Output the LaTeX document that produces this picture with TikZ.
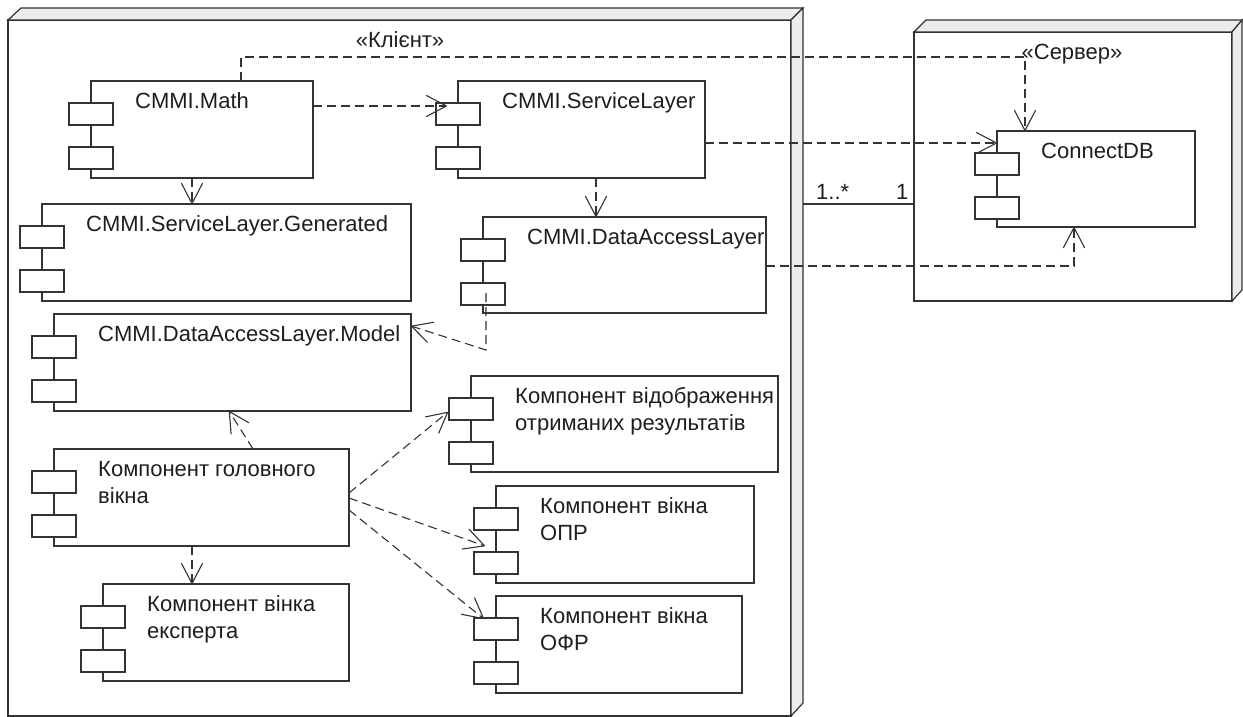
\documentclass[tikz,border=0pt]{standalone}
\usepackage{fontspec}
\setmainfont{Liberation Sans}
\usetikzlibrary{arrows.meta}
\definecolor{linec}{HTML}{333333}
\definecolor{facec}{HTML}{ECECEC}
\definecolor{textc}{HTML}{1E1E1E}
\tikzset{
 body/.style={draw=linec, line width=1.2pt, fill=white, rectangle, inner sep=0pt, outer sep=0pt},
 port/.style={draw=linec, line width=1.2pt, fill=white, rectangle, inner sep=0pt, outer sep=0pt, minimum width=44pt, minimum height=22pt},
 lbl/.style={inner sep=0pt, text=textc, font=\fontsize{22pt}{27pt}\selectfont, align=left},
 dep/.style={draw=linec, line width=1.1pt, dash pattern=on 9pt off 5pt, -{Straight Barb[length=20pt,width=21pt,round]}},
 assoc/.style={draw=linec, line width=1.2pt},
 face/.style={fill=facec, draw=linec, line width=1.2pt, line join=miter},
}
\newcommand\compbox[6]{%
 \node[body, minimum width={#4-#2}, minimum height={#5-#3}, anchor=north west] (#1) at (#2,#3) {};
 \node[port, anchor=north west] (#1-pa) at ([xshift=-22pt,yshift=-22pt]#1.north west) {};
 \node[port, anchor=north west] (#1-pb) at ([xshift=-22pt,yshift=-66pt]#1.north west) {};
 \node[lbl, anchor=north west] (#1-t) at ([xshift=44pt,yshift=-8pt]#1.north west) {#6};
}
\begin{document}
\begin{tikzpicture}[x=1pt,y=-1pt]
\useasboundingbox[fill=white] (0,0) rectangle (1243,717);
% client node
\node[body, minimum width=783, minimum height=696, anchor=north west] (client) at (8,20) {};
\filldraw[face] (client.north west) -- (21,8) -- (803,8) -- (client.north east) -- cycle;
\filldraw[face] (client.north east) -- (803,8) -- (803,703) -- (client.south east) -- cycle;
\node[lbl, anchor=base] (clientlbl) at (400,48) {«Клієнт»};
% server node
\node[body, minimum width=318, minimum height=269, anchor=north west] (server) at (914,32) {};
\filldraw[face] (server.north west) -- (926,20) -- (1242,20) -- (server.north east) -- cycle;
\filldraw[face] (server.north east) -- (1242,20) -- (1242,290) -- (server.south east) -- cycle;
\node[lbl, anchor=base] (serverlbl) at (1072,59.5) {«Сервер»};
% components
\compbox{math}{91}{81}{313}{178}{\strut CMMI.Math}
\compbox{gen}{42}{204}{411}{301}{\strut CMMI.ServiceLayer.Generated}
\compbox{sl}{458}{81}{705}{178}{\strut CMMI.ServiceLayer}
\compbox{dal}{483}{217}{766}{313}{\strut CMMI.DataAccessLayer}
\compbox{model}{54}{314}{411}{411}{\strut CMMI.DataAccessLayer.Model}
\compbox{mainw}{54}{449}{349}{546}{\strut Компонент головного\\\strut вікна}
\compbox{exp}{103}{584}{349}{681}{\strut Компонент вінка\\\strut експерта}
\compbox{res}{471}{376}{778}{472}{\strut Компонент відображення\\\strut отриманих результатів}
\compbox{opr}{496}{486}{754}{583}{\strut Компонент вікна\\\strut ОПР}
\compbox{ofr}{496}{596}{742}{693}{\strut Компонент вікна\\\strut ОФР}
\compbox{db}{997}{131}{1195}{227}{\strut ConnectDB}
% association
\coordinate (as) at (803,204);
\draw[assoc] (as) -- (server.west |- as);
\node[lbl, anchor=base west] (m1) at (816,199) {1..*};
\node[lbl, anchor=base west] (m2) at (896,199) {1};
% dependencies
\coordinate (xa) at (192,0);
\draw[dep] (math.south -| xa) -- (gen.north -| xa);
\coordinate (b1) at (447,106);
\draw[dep] (math.east |- b1) -- (b1);
\coordinate (c1) at (241,57);
\coordinate (c2) at (1025,57);
\draw[dep] (math.north -| c1) -- (c1) -- (c2) -- (c2 |- db.north);
\coordinate (d1) at (0,143);
\draw[dep] (sl.east |- d1) -- (db.west |- d1);
\coordinate (e1) at (596,0);
\draw[dep] (sl.south -| e1) -- (dal.north -| e1);
\coordinate (f1) at (1074,266);
\draw[dep] (dal.east |- f1) -- (f1) -- (f1 |- db.south);
\coordinate (g0) at (486,293);
\coordinate (g1) at (486,350);
\coordinate (g2) at (0,326);
\draw[dep] (g0) -- (g1) -- (model.east |- g2);
\coordinate (h0) at (253,0);
\coordinate (h1) at (229,0);
\draw[dep] (mainw.north -| h0) -- (model.south -| h1);
\coordinate (xi) at (192,0);
\draw[dep] (mainw.south -| xi) -- (exp.north -| xi);
\coordinate (j0) at (0,493);
\coordinate (j1) at (448,412);
\draw[dep] (mainw.east |- j0) -- (j1);
\coordinate (k0) at (0,498);
\coordinate (k1) at (485,546);
\draw[dep] (mainw.east |- k0) -- (k1);
\coordinate (l0) at (0,510);
\coordinate (l1) at (484,619);
\draw[dep] (mainw.east |- l0) -- (l1);
\end{tikzpicture}
\end{document}
